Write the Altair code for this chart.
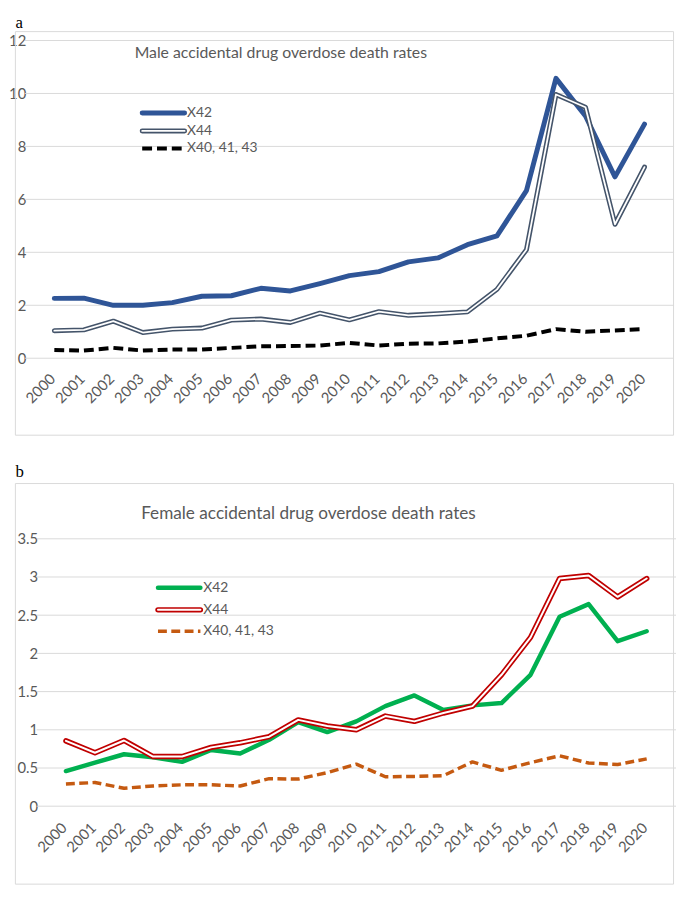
import altair as alt
import pandas as pd

years = [str(y) for y in range(2000, 2021)]

male_x42 = [2.26, 2.27, 2.0, 2.0, 2.1, 2.34, 2.36, 2.64, 2.54, 2.82, 3.12, 3.27, 3.64, 3.79, 4.29, 4.62, 6.33, 10.57, 9.15, 6.85, 8.84]
male_x44 = [1.04, 1.07, 1.40, 0.97, 1.10, 1.14, 1.44, 1.48, 1.35, 1.70, 1.45, 1.76, 1.62, 1.68, 1.75, 2.60, 4.10, 9.96, 9.48, 5.06, 7.22]
male_x40 = [0.31, 0.29, 0.39, 0.29, 0.33, 0.33, 0.39, 0.45, 0.46, 0.48, 0.58, 0.48, 0.55, 0.56, 0.63, 0.75, 0.85, 1.10, 1.00, 1.05, 1.10]

female_x42 = [0.46, 0.57, 0.68, 0.64, 0.58, 0.735, 0.69, 0.87, 1.10, 0.97, 1.11, 1.31, 1.45, 1.26, 1.32, 1.35, 1.72, 2.48, 2.645, 2.16, 2.29]
female_x44 = [0.855, 0.70, 0.86, 0.65, 0.65, 0.77, 0.83, 0.91, 1.13, 1.05, 1.00, 1.18, 1.11, 1.22, 1.31, 1.72, 2.21, 2.98, 3.02, 2.74, 2.98]
female_x40 = [0.29, 0.31, 0.235, 0.265, 0.28, 0.28, 0.265, 0.36, 0.355, 0.44, 0.55, 0.385, 0.39, 0.40, 0.58, 0.47, 0.57, 0.66, 0.565, 0.545, 0.62]

series_names = ["X42", "X44", "X40, 41, 43"]
male_title = "Male accidental drug overdose death rates"
female_title = "Female accidental drug overdose death rates"
male_ticks = [0, 2, 4, 6, 8, 10, 12]
female_ticks = [0, 0.5, 1, 1.5, 2, 2.5, 3, 3.5]

GRAY = "#595959"
GRID = "#D9D9D9"
FONT = "Lato"
W, H = 630, 322


def frame(values):
    return pd.DataFrame({"year": years, "value": values})


def panel(vals, ticks, ymax, xrange, yrange, styles, title, title_xy, title_size,
          letter, border, legend_x, legend_ys, label_x, yfmt, ylabpad):
    x_enc = alt.X("year:O", title=None,
                  scale=alt.Scale(type="point", padding=0.5, range=xrange),
                  axis=alt.Axis(grid=False, domain=False, ticks=False,
                                labelAngle=-45, labelAlign="right",
                                labelBaseline="middle", labelPadding=18,
                                labelOffset=-2, labelColor=GRAY,
                                labelFont=FONT, labelFontSize=15))
    y_enc = alt.Y("value:Q", title=None,
                  scale=alt.Scale(domain=[0, ymax], nice=False, range=yrange),
                  axis=alt.Axis(values=ticks, format=yfmt, grid=False,
                                domain=False, ticks=False, labelPadding=ylabpad,
                                labelColor=GRAY, labelFont=FONT, labelFontSize=15))
    layers = []
    one = pd.DataFrame({"k": [0]})
    # border
    layers.append(alt.Chart(one).mark_rect(fillOpacity=0, stroke=GRID, strokeWidth=1).encode(
        x=alt.value(border[0]), x2=alt.value(border[1]),
        y=alt.value(border[2]), y2=alt.value(border[3])))
    # gridlines at the tick values
    layers.append(alt.Chart(pd.DataFrame({"value": ticks})).mark_rule(
        color=GRID, strokeWidth=1).encode(
        y=y_enc, x=alt.value(xrange[0] - 15), x2=alt.value(xrange[1] + 15)))
    for v, st in zip(vals, styles):
        d = frame(v)
        for kw in st:
            layers.append(alt.Chart(d).mark_line(**kw).encode(x=x_enc, y=y_enc))
    # legend
    for name, st, ly in zip(series_names, styles, legend_ys):
        for kw in st:
            kw2 = {k: v for k, v in kw.items() if k not in ("strokeJoin",)}
            layers.append(alt.Chart(one).mark_rule(**kw2).encode(
                x=alt.value(legend_x[0]), x2=alt.value(legend_x[1]), y=alt.value(ly)))
        layers.append(alt.Chart(one).mark_text(
            text=name, align="left", baseline="middle", font=FONT, fontSize=14,
            color=GRAY).encode(x=alt.value(label_x), y=alt.value(ly)))
    layers.append(alt.Chart(one).mark_text(
        text=title, align="center", baseline="middle", font=FONT,
        fontSize=title_size, color=GRAY).encode(
        x=alt.value(title_xy[0]), y=alt.value(title_xy[1])))
    layers.append(alt.Chart(one).mark_text(
        text=letter, align="left", baseline="top", font="Liberation Serif",
        fontSize=17, color="black").encode(
        x=alt.value(-24.5), y=alt.value(-26)))
    return alt.layer(*layers).properties(width=W, height=H)


male_styles = [
    [dict(color="#2F5597", strokeWidth=5, strokeJoin="round", strokeCap="round")],
    [dict(color="#44546A", strokeWidth=5, strokeJoin="round", strokeCap="round"),
     dict(color="white", strokeWidth=1.8, strokeJoin="round", strokeCap="round")],
    [dict(color="black", strokeWidth=4, strokeDash=[10, 5], strokeJoin="round")],
]
female_styles = [
    [dict(color="#00B050", strokeWidth=4.5, strokeJoin="round", strokeCap="round")],
    [dict(color="#C00000", strokeWidth=5.5, strokeJoin="round", strokeCap="round"),
     dict(color="white", strokeWidth=2, strokeJoin="round", strokeCap="round")],
    [dict(color="#C55A11", strokeWidth=3.5, strokeDash=[9, 4.5], strokeJoin="round")],
]

BORDER = (-24.5, 642.5, -9, 400)

top = panel([male_x42, male_x44, male_x40], male_ticks, 12, [0, 628], [322, 0], male_styles,
            male_title, (244.5, 13), 16, "a", BORDER,
            (104, 147), [73.5, 91.7, 109.5], 149.5, "d", 14)
bottom = panel([female_x42, female_x44, female_x40], female_ticks, 3.5, [12, 630], [321, 50],
               female_styles, female_title, (272.5, 24.5), 17.4, "b",
               (BORDER[0], BORDER[1], -6, BORDER[3]),
               (120, 163), [99.7, 122, 143.7], 166, ".1~f", 2)

chart = alt.vconcat(top, bottom, spacing=27).properties(
    padding=0).configure_view(stroke=None)

chart.save("out.html", embed_options={"renderer": "svg", "actions": False})
